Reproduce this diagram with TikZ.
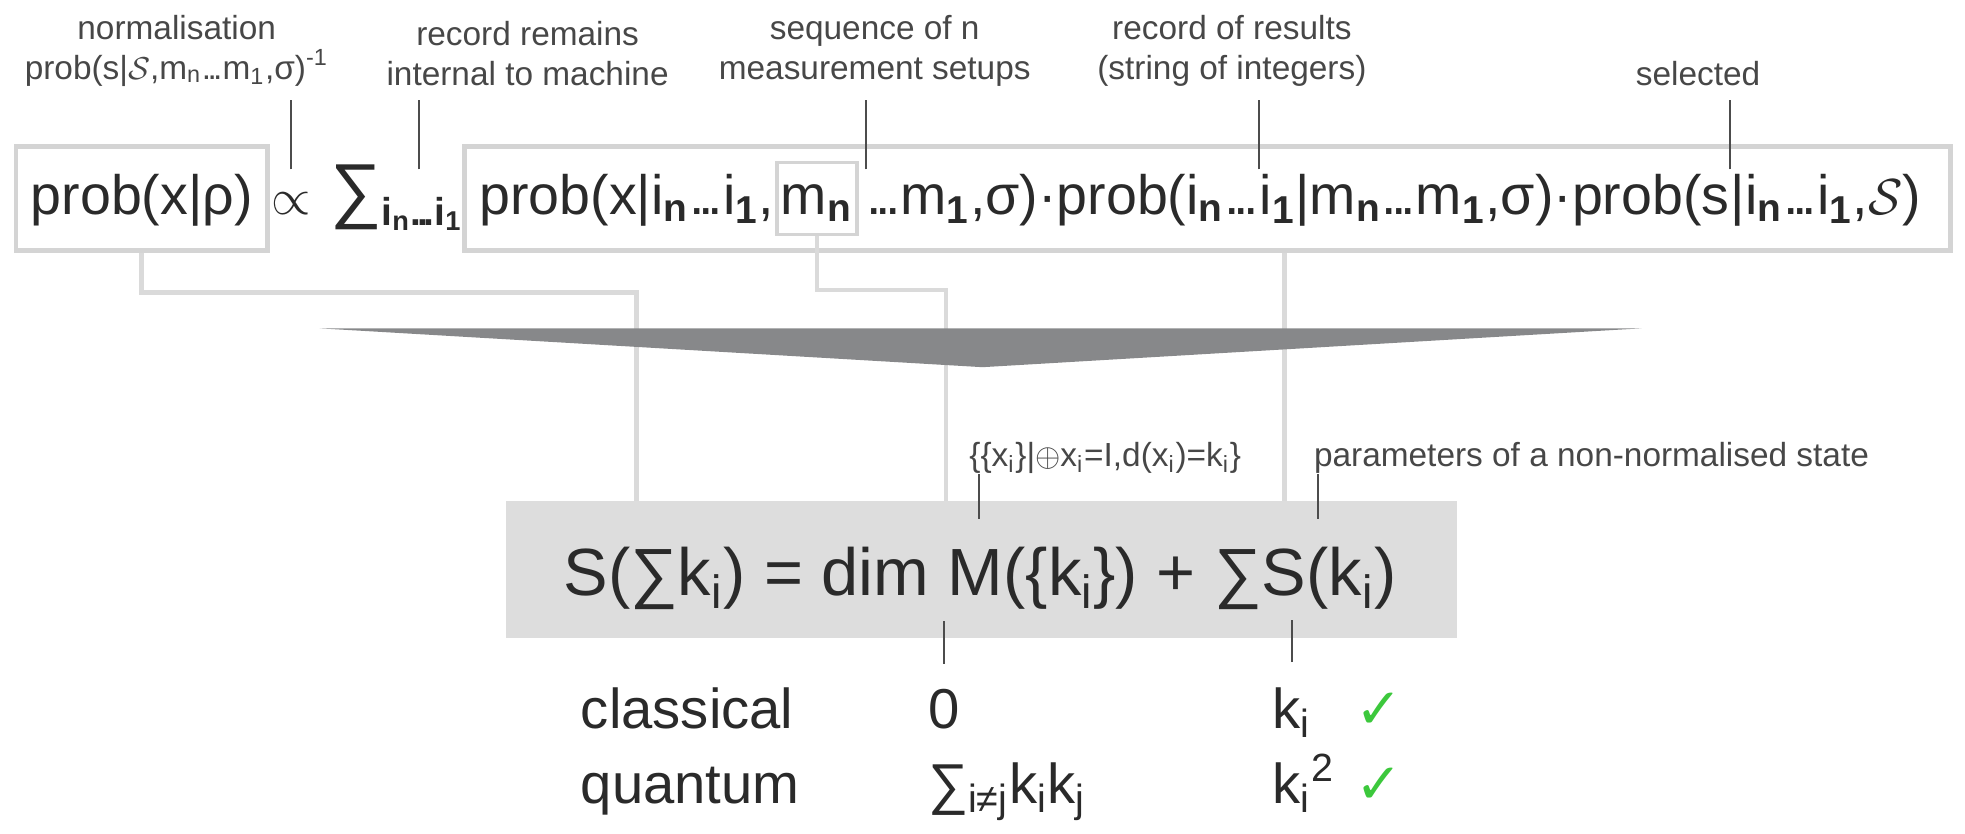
\documentclass[tikz,border=0pt]{standalone}
\usepackage{fontspec}
\usepackage{graphicx}
\setmainfont{Liberation Sans}
\newfontfamily\tickfont{DejaVu Sans}
\usetikzlibrary{positioning, fit, calc}
\definecolor{boxgray}{HTML}{D4D4D4}
\definecolor{linkgray}{HTML}{DADADA}
\definecolor{arrowgray}{HTML}{87888A}
\definecolor{panelgray}{HTML}{DDDDDD}
\definecolor{inkgray}{HTML}{2A2A2A}
\definecolor{notegray}{HTML}{474747}
\definecolor{tickgreen}{HTML}{3CC83C}
\newcommand{\bsub}[1]{\textsubscript{\bfseries #1}}
\newcommand{\nsub}[1]{\textsubscript{#1}}
\newcommand{\dts}{.\kern-0.11em.\kern-0.11em.}
\newcommand{\bigsum}{\scalebox{1.3}{∑}}

\begin{document}
\begin{tikzpicture}[x=0.12532mm, y=-0.12532mm,
    note/.style={font=\fontsize{9.5}{11.4}\selectfont, text=notegray, align=center, inner sep=0pt, outer ysep=4pt},
    small/.style={font=\fontsize{9.5}{11.4}\selectfont, text=notegray, inner sep=0pt},
    term/.style={font=\fontsize{15.8}{18}\selectfont, text=inkgray, inner sep=0pt, text height=12.6pt, text depth=3.5pt},
    row/.style={font=\fontsize{16}{19}\selectfont, text=inkgray, inner sep=0pt, anchor=base west},
    frame/.style={draw=boxgray, line width=1.4pt, inner xsep=4pt, inner ysep=6.5pt},
    lead/.style={draw=black!70, line width=0.6pt},
    link/.style={draw=linkgray, line width=1.3pt},
    tick/.style={font=\tickfont\fontsize{16}{19}\selectfont, text=tickgreen, inner sep=0pt, anchor=base west}]
    \useasboundingbox (0,0) rectangle (1568,665);

    % Top formula
    \node[term, anchor=base west] (probx) at (24,171) {prob(x|ρ)};
    \node[frame, fit=(probx)] (probxbox) {};
    \node[term, base right=5pt of probx] (prop) {$\propto$};
    \node[term, base right=5pt of prop] (sumi) {\bigsum\textsubscript{\bfseries i\textsubscript{n}\dts i\textsubscript{1}}};
    \node[term, anchor=base west] (pA) at (382,171) {prob(x|i\bsub{n}\dts i\bsub{1},};
    \node[term, draw=boxgray, line width=1pt, inner xsep=1.2pt, inner ysep=2.2pt, base right=0pt of pA] (mn) {m\bsub{n}};
    \node[term, base right=2pt of mn] (pB) {\dts m\bsub{1},σ)·prob(i\bsub{n}\dts};
    \node[term, base right=0pt of pB] (pC) {i\bsub{1}|m\bsub{n}\dts m\bsub{1},σ)·prob(s};
    \node[term, base right=0pt of pC] (pD) {|i\bsub{n}\dts i\bsub{1},$\mathcal{S}$)};
    \coordinate (pDend) at ([xshift=4pt]pD.east);
    \node[frame, fit=(pA)(pD)(pDend)] (prob2) {};

    % Notes above the formula
    \node[note, anchor=south] (normlab) at (141,80) {normalisation\\prob(s|$\mathcal{S}$,m\nsub{n}\dts m\nsub{1},σ)\textsuperscript{-1}};
    \node[note, anchor=south] (reclab) at (421,80) {record remains\\internal to machine};
    \node[note, anchor=south] (seqlab) at (698,80) {sequence of n\\measurement setups};
    \node[note, anchor=south] (reslab) at (983,80) {record of results\\(string of integers)};
    \node[note, anchor=south] (sellab) at (1355,80) {selected};

    \coordinate (sumtop) at ($(sumi.north west)!0.66!(sumi.north east)$);
    \draw[lead] (prop.north) -- (prop.north |- normlab.south);
    \draw[lead] (sumtop) -- (sumtop |- reclab.south);
    \draw[lead] (pB.north west) -- (pB.north west |- seqlab.south);
    \draw[lead] (pC.north west) -- (pC.north west |- reslab.south);
    \draw[lead] (pD.north west) -- (pD.north west |- sellab.south);

    % Links down to the entropy law
    \coordinate (inA) at (508,400);
    \coordinate (inB) at (755,400);
    \coordinate (inC) at (1025,400);
    \draw[link] (probxbox.south) -- ++(0,32) -| (inA);
    \draw[link] (mn.south) -- ++(0,43) -| (inB);
    \draw[link] (inC |- prob2.south) -- (inC);

    % Big arrow
    \fill[arrowgray] (255,262) -- (1310,262) -- (784,293) -- cycle;

    % Entropy law
    \node[fill=panelgray, inner sep=0pt, fit={(404,400) (1163,509)}] (panel) {};
    \node[font=\fontsize{19}{22}\selectfont, text=inkgray, inner sep=0pt, anchor=base] (law) at (782,475)
        {S(∑k\nsub{i}) = dim M(\{k\nsub{i}\}) + ∑S(k\nsub{i})};

    \node[small, anchor=base west] (setlab) at (773,372)
        {\{\{x\nsub{i}\}|$\oplus$x\nsub{i}=I,d(x\nsub{i})=k\nsub{i}\}};
    \node[small, anchor=base west] (parlab) at (1048,372) {parameters of a non-normalised state};
    \draw[lead] ([xshift=2.8pt]setlab.south west) -- ++(0,36);
    \draw[lead] ([xshift=1.4pt]parlab.south west) -- ++(0,36);

    % Classical and quantum rows
    \node[row] (cl) at (463,581) {classical};
    \node[row] (qu) at (463,641) {quantum};
    \node[row] (zero) at (740,581) {0};
    \node[row] (sumkk) at (740,641) {∑\nsub{i≠j}k\nsub{i}k\nsub{j}};
    \node[row] (ki) at (1015,581) {k\nsub{i}};
    \node[row] (kisq) at (1015,641) {k\nsub{i}\textsuperscript{2}};
    \node[tick] (tickA) at (1081,581) {✓};
    \node[tick] (tickB) at (1081,641) {✓};

    \draw[lead] ([yshift=7pt]zero.north) -- ([yshift=19pt]zero.north);
    \draw[lead] ([yshift=7pt]ki.north) -- ([yshift=19pt]ki.north);

\end{tikzpicture}
\end{document}
